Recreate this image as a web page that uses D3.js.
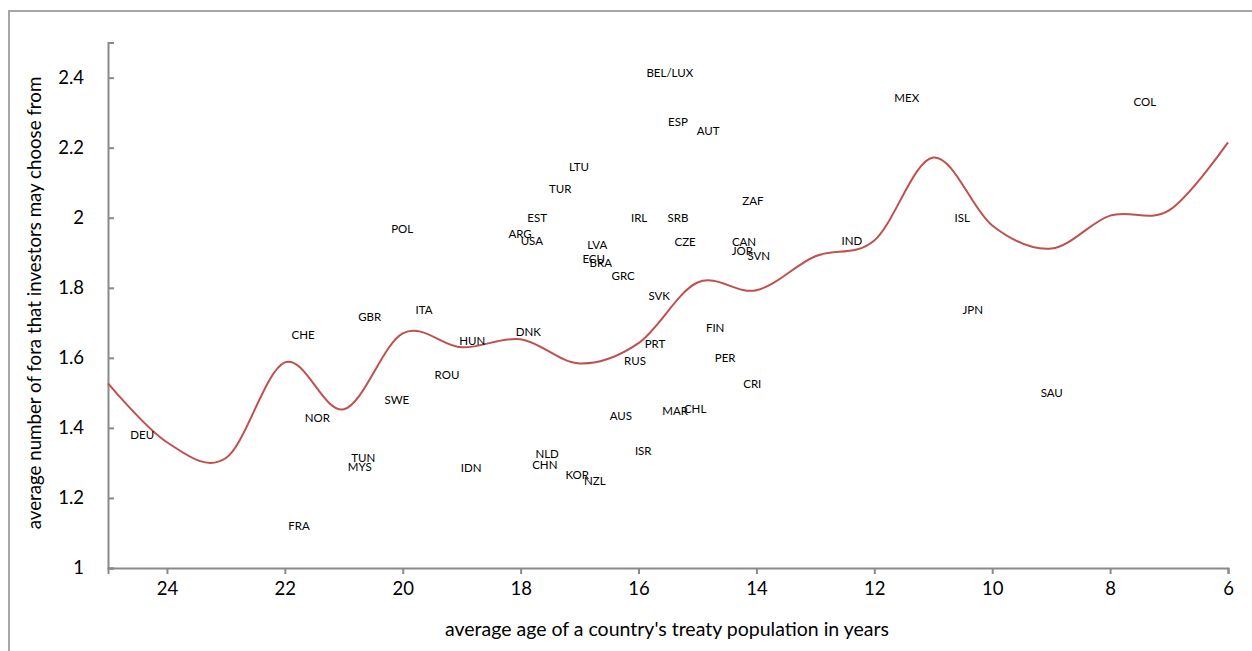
<!DOCTYPE html>
<html>
<head>
<meta charset="utf-8">
<script src="https://cdn.jsdelivr.net/npm/d3@7"></script>
<style>
  html, body { margin: 0; padding: 0; background: #fff; }
  svg { display: block; }
</style>
</head>
<body>
<svg id="chart" width="1252" height="651"></svg>
<script>
// Country labels placed at (average treaty age, average number of fora)
const countries = ["BEL/LUX","ESP","AUT","LTU","TUR","EST","ARG","USA","POL","IRL","SRB","ZAF","CZE","LVA","ECU","BRA","GRC","SVK","CAN","JOR","SVN","IND","MEX","COL","ISL","JPN","SAU","ITA","GBR","CHE","DNK","HUN","FIN","PRT","PER","RUS","ROU","CRI","SWE","NOR","AUS","MAR","CHL","DEU","TUN","MYS","IDN","NLD","CHN","KOR","NZL","ISR","FRA"];
const ages = [15.47,15.33,14.82,17.01,17.33,17.72,18.01,17.81,20.01,15.99,15.33,14.06,15.21,16.70,16.76,16.64,16.26,15.65,14.21,14.24,13.96,12.38,11.45,7.41,10.51,10.33,8.99,19.64,20.56,21.69,17.87,18.82,14.70,15.72,14.53,16.06,19.25,14.07,20.10,21.45,16.30,15.38,15.04,24.42,20.67,20.73,18.84,17.55,17.59,17.04,16.74,15.92,21.76];
const fora = [2.414,2.274,2.249,2.146,2.083,1.998,1.955,1.935,1.969,1.998,1.998,2.049,1.932,1.921,1.881,1.872,1.833,1.776,1.932,1.904,1.892,1.935,2.343,2.331,1.998,1.738,1.499,1.738,1.716,1.664,1.673,1.647,1.684,1.641,1.599,1.590,1.550,1.525,1.479,1.428,1.433,1.448,1.453,1.379,1.314,1.288,1.285,1.325,1.294,1.265,1.248,1.334,1.120];

// Smoothed trend by treaty age
const trendAge = [25,24,23,22,21,20,19,18,17,16,15,14,13,12,11,10,9,8,7,6];
const trendFora = [1.527,1.359,1.314,1.587,1.453,1.670,1.630,1.653,1.584,1.642,1.815,1.793,1.890,1.935,2.172,1.978,1.912,2.006,2.021,2.215];

const xTicks = [24,22,20,18,16,14,12,10,8,6];
const yTicks = [1,1.2,1.4,1.6,1.8,2,2.2,2.4];

const svg = d3.select("#chart");
const font = "Lato, 'Open Sans', sans-serif";

// outer chart frame
svg.append("path")
  .attr("d", "M9,651 L9,11 L1252,11")
  .attr("fill", "none")
  .attr("stroke", "#a6a6a6")
  .attr("stroke-width", 2);

const x = d3.scaleLinear().domain([25, 6]).range([108, 1228]);
const y = d3.scaleLinear().domain([1, 2.5]).range([568, 42.6]);

const axisColor = "#898989";

// y axis
const yAxis = svg.append("g")
  .attr("transform", "translate(108,0)")
  .call(d3.axisLeft(y).tickValues(yTicks).tickSize(-6).tickPadding(24)
    .tickFormat(d => d3.format("~g")(d)));
yAxis.select(".domain").attr("stroke", axisColor).attr("stroke-width", 2);
yAxis.selectAll(".tick line").attr("stroke", axisColor).attr("stroke-width", 2);
yAxis.selectAll(".tick text")
  .attr("font-family", font).attr("font-size", 18.5).attr("fill", "#000");

// x axis
const xAxis = svg.append("g")
  .attr("transform", "translate(0,568)")
  .call(d3.axisBottom(x).tickValues(xTicks).tickSize(6).tickPadding(8)
    .tickFormat(d3.format("d")));
xAxis.select(".domain").attr("stroke", axisColor).attr("stroke-width", 2);
xAxis.selectAll(".tick line").attr("stroke", axisColor).attr("stroke-width", 2);
xAxis.selectAll(".tick text")
  .attr("font-family", font).attr("font-size", 18.5).attr("fill", "#000");

// trend line
const line = d3.line()
  .x((d, i) => x(trendAge[i]))
  .y((d, i) => y(trendFora[i]))
  .curve(d3.curveCardinal.tension(0));
svg.append("path")
  .datum(trendAge)
  .attr("d", line)
  .attr("fill", "none")
  .attr("stroke", "#c0504d")
  .attr("stroke-width", 2);

// country labels
svg.append("g").selectAll("text")
  .data(countries)
  .join("text")
  .attr("x", (d, i) => x(ages[i]))
  .attr("y", (d, i) => y(fora[i]))
  .attr("dy", "0.35em")
  .attr("text-anchor", "middle")
  .attr("font-family", font)
  .attr("font-size", 11.5)
  .attr("fill", "#000")
  .text(d => d);

// axis titles
svg.append("text")
  .attr("x", 667).attr("y", 636)
  .attr("text-anchor", "middle")
  .attr("font-family", font).attr("font-size", 19.5)
  .attr("fill", "#000")
  .text("average age of a country's treaty population in years");

svg.append("text")
  .attr("transform", "translate(41,303) rotate(-90)")
  .attr("text-anchor", "middle")
  .attr("font-family", font).attr("font-size", 18.7)
  .attr("fill", "#000")
  .text("average number of fora that investors may choose from");
</script>
</body>
</html>
